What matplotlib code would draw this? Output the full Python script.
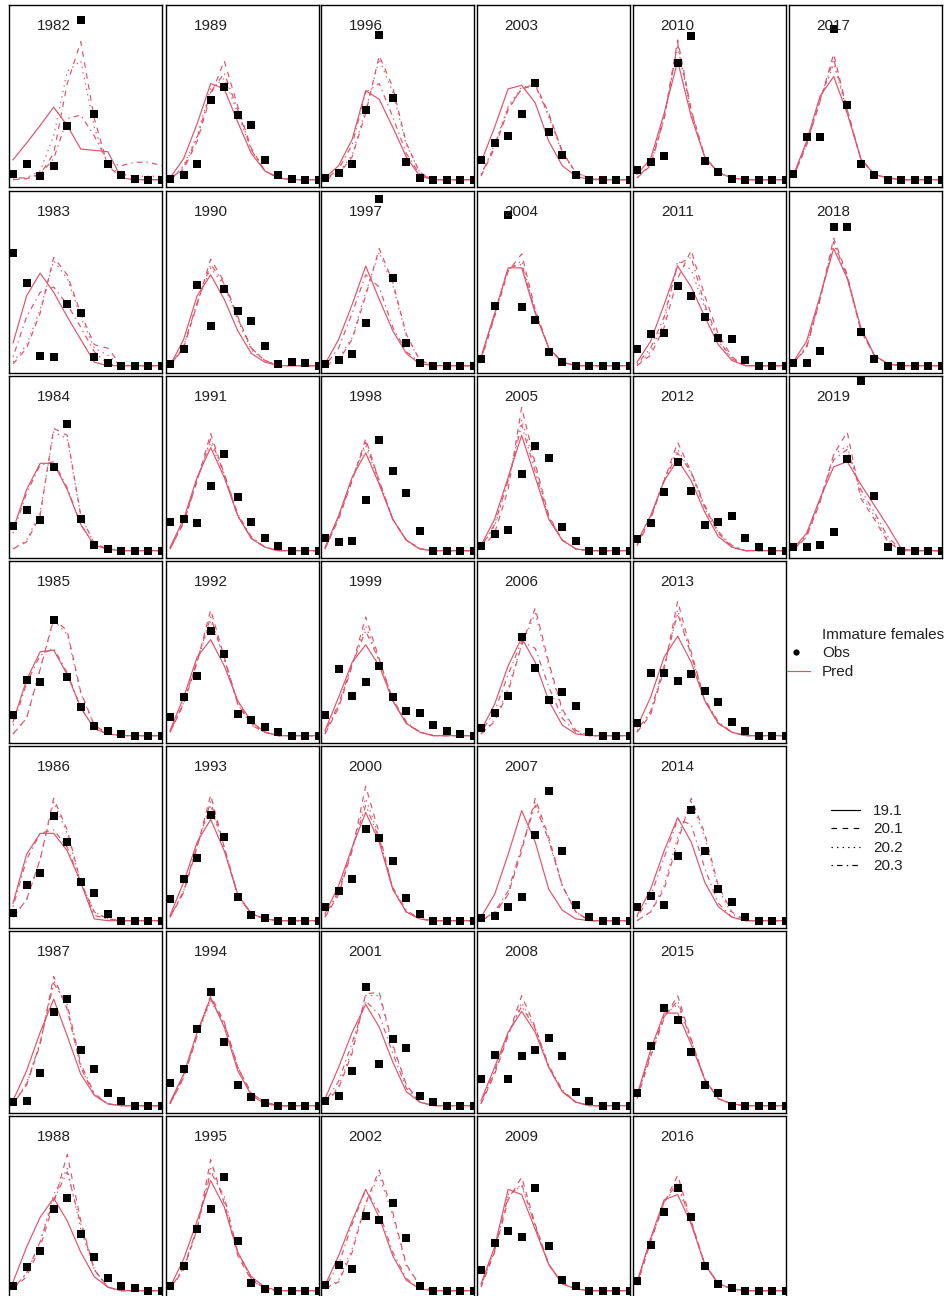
import matplotlib
matplotlib.use("Agg")
import matplotlib.pyplot as plt
from matplotlib.lines import Line2D

plt.rcParams['font.family'] = ['Liberation Sans', 'DejaVu Sans']
plt.rcParams['lines.scale_dashes'] = False

# size bins (12 per panel) and years
bins = list(range(12))
years = list(range(1982, 2020))

obs = {
    1982: [3.4, 9.1, 1.9, 7.6, 30.5, 91.4, 37.7, 9.1, 2.9, 0.4, 0, 0],
    1983: [64.3, 47.3, 5.8, 4.8, 35.1, 29.9, 5.2, 1.5, 0, 0, 0, 0],
    1984: [14, 23.5, 17.8, 47.8, 72.3, 18.2, 3.3, 1, 0, 0, 0, 0],
    1985: [11.9, 32.1, 30.6, 66.5, 33.5, 16.6, 5.4, 2.5, 1, 0, 0, 0],
    1986: [4.4, 20.5, 27.2, 60.2, 44.9, 22.4, 15.9, 3.8, 0, 0, 0, 0],
    1987: [1.9, 2.5, 18.7, 53.9, 60.8, 32.1, 21, 7.3, 2.5, 0, 0, 0],
    1988: [2.5, 13.7, 22.9, 46.7, 52.8, 32.4, 19.4, 7.2, 2.5, 1.5, 0, 0],
    1989: [0.4, 2.9, 9.1, 45.7, 52.8, 37.1, 31.4, 11.4, 2.9, 0.4, 0, 0],
    1990: [1, 9.7, 45.9, 22.8, 43.8, 31.5, 25.7, 11, 1, 1.9, 1.5, 0],
    1991: [16.6, 18.2, 15.7, 37.3, 55.4, 30.6, 16.3, 7.3, 2.5, 0, 0, 0],
    1992: [10.9, 22.4, 34, 59.8, 46.5, 12.4, 9.2, 4.8, 1.9, 0, 0, 0],
    1993: [12.4, 23.9, 35.8, 60.6, 47.8, 13.4, 3.4, 1.5, 0, 0, 0, 0],
    1994: [12.8, 21, 44, 65, 36.7, 11.9, 5.2, 1.5, 0, 0, 0, 0],
    1995: [2.5, 13.9, 35.2, 47, 65.1, 28.2, 4.4, 1, 0, 0, 0, 0],
    1996: [1, 3.8, 9.1, 39.6, 82.9, 46.7, 10.1, 1, 0, 0, 0, 0],
    1997: [1, 3.5, 6.4, 24.7, 95.2, 50.2, 13.1, 1.5, 0, 0, 0, 0],
    1998: [7.3, 4.8, 5.4, 29.1, 63.5, 45.5, 32.9, 11.1, 0, 0, 0, 0],
    1999: [11.9, 38.2, 22.9, 30.6, 39.6, 22.4, 14, 12.8, 6.1, 2.5, 1, 0],
    2000: [7.6, 16.8, 23.9, 52.2, 47.2, 34, 13, 3.8, 0, 0, 0, 0],
    2001: [2.5, 5.7, 19.7, 67.9, 23.9, 38.2, 33.1, 5.7, 1.9, 0, 0, 0],
    2002: [3.4, 14.9, 12.4, 42.5, 40.6, 50.1, 29.9, 2.9, 0, 0, 0, 0],
    2003: [11.4, 21, 24.8, 37.7, 55.2, 27.2, 13.9, 2.9, 0, 0, 0, 0],
    2004: [3.9, 34.2, 86.5, 33.4, 26.4, 7.7, 2.3, 0, 0, 0, 0, 0],
    2005: [2.9, 9.6, 11.9, 44, 59.8, 53, 13.4, 5.4, 0, 0, 0, 0],
    2006: [4.4, 13, 22.9, 56.4, 38.8, 20.7, 24.9, 16.8, 1.9, 0, 0, 0],
    2007: [1.3, 2.5, 7.6, 13.4, 48.8, 74, 39.8, 9.2, 1.9, 0, 0, 0],
    2008: [15.3, 29.1, 15.3, 28.7, 31.9, 38.6, 28.7, 8, 2.9, 0, 0, 0],
    2009: [11.8, 27.2, 33.9, 30.9, 58.7, 25.7, 6.3, 2.5, 0, 0, 0, 0],
    2010: [5.7, 10.1, 13.7, 66.7, 82.3, 10.5, 4.2, 0.4, 0, 0, 0, 0],
    2011: [9.7, 18, 18.9, 45.8, 40, 28, 15.8, 15.1, 3.5, 0, 0, 0],
    2012: [6.7, 15.7, 33.5, 51, 34, 14.9, 16.6, 20.1, 7.3, 1.9, 0, 0],
    2013: [7.3, 35.8, 35.8, 31.5, 35.4, 25.8, 19.1, 7.6, 2.5, 0, 0, 0],
    2014: [7.6, 14, 9.2, 37.3, 63.1, 39.8, 18.2, 10.9, 1.9, 0, 0, 0],
    2015: [7.3, 34, 56, 48.8, 30.6, 12, 7.3, 0, 0, 0, 0, 0],
    2016: [5.7, 26.3, 44.8, 58.7, 42.3, 14.3, 3.8, 1.5, 0, 0, 0, 0],
    2017: [3.4, 24.4, 24.4, 86, 42.9, 9.1, 2.9, 0, 0, 0, 0, 0],
    2018: [1.5, 1.5, 8.3, 79.2, 79.2, 19.3, 3.9, 0, 0, 0, 0, 0],
    2019: [1.9, 1.9, 3.3, 10.5, 52.2, 96.9, 31.2, 1.9, 0, 0, 0, 0],
}

# model 19.1 predictions
pred_191 = {
    1982: [11.4, 21, 31, 41.5, 31, 17.5, 16.8, 16, 1, 0, 0, 0],
    1983: [13, 40, 53, 42, 28, 15, 2, 0, 0, 0, 0, 0],
    1984: [12, 35, 50, 50, 35, 15, 3, 1, 0, 0, 0, 0],
    1985: [8, 32, 48, 49, 35, 16, 4, 1, 0, 0, 0, 0],
    1986: [10, 38, 50, 50, 40, 22, 1, 0, 0, 0, 0, 0],
    1987: [3, 20, 42, 61, 40, 18, 6, 1, 0, 0, 0, 0],
    1988: [5, 25, 42, 53, 40, 22, 8, 2, 0, 0, 0, 0],
    1989: [1, 12, 32, 55, 52, 33, 15, 5, 1, 0, 0, 0],
    1990: [0, 15, 40, 52, 38, 20, 7, 2, 0, 0, 0, 0],
    1991: [2, 18, 42, 59, 42, 20, 7, 2, 0, 0, 0, 0],
    1992: [3, 22, 45, 55, 40, 20, 8, 2, 0, 0, 0, 0],
    1993: [3, 22, 45, 58, 40, 15, 4, 1, 0, 0, 0, 0],
    1994: [2, 18, 42, 62, 45, 20, 6, 1, 0, 0, 0, 0],
    1995: [2, 18, 40, 63, 48, 22, 8, 2, 0, 0, 0, 0],
    1996: [1, 8, 23, 51, 46, 30, 13, 2, 0, 0, 0, 0],
    1997: [1, 15, 35, 57, 38, 20, 7, 1, 0, 0, 0, 0],
    1998: [2, 20, 42, 56, 38, 18, 6, 1, 0, 0, 0, 0],
    1999: [3, 22, 42, 52, 40, 20, 7, 2, 0, 0, 0, 0],
    2000: [4, 20, 42, 62, 45, 18, 5, 1, 0, 0, 0, 0],
    2001: [4, 22, 42, 58, 45, 25, 8, 2, 0, 0, 0, 0],
    2002: [3, 20, 40, 58, 42, 20, 6, 1, 0, 0, 0, 0],
    2003: [10, 30, 52, 54, 44, 22, 8, 2, 0, 0, 0, 0],
    2004: [5, 30, 56, 56, 30, 10, 2, 0, 0, 0, 0, 0],
    2005: [3, 18, 42, 66, 42, 18, 6, 1, 0, 0, 0, 0],
    2006: [3, 18, 40, 56, 42, 20, 6, 1, 0, 0, 0, 0],
    2007: [2, 15, 38, 63, 45, 18, 6, 1, 0, 0, 0, 0],
    2008: [3, 22, 42, 54, 42, 22, 8, 2, 0, 0, 0, 0],
    2009: [4, 25, 58, 55, 35, 15, 4, 1, 0, 0, 0, 0],
    2010: [3, 12, 38, 68, 36, 13, 4, 1, 0, 0, 0, 0],
    2011: [2, 14, 35, 57, 45, 28, 12, 3, 0, 0, 0, 0],
    2012: [5, 20, 40, 52, 40, 22, 8, 2, 0, 0, 0, 0],
    2013: [5, 22, 45, 57, 42, 20, 7, 2, 0, 0, 0, 0],
    2014: [3, 18, 40, 59, 45, 22, 8, 2, 0, 0, 0, 0],
    2015: [6, 32, 53, 53, 35, 15, 4, 1, 0, 0, 0, 0],
    2016: [5, 30, 52, 55, 38, 15, 4, 1, 0, 0, 0, 0],
    2017: [2, 22, 48, 59, 38, 12, 3, 1, 0, 0, 0, 0],
    2018: [2, 14, 40, 67, 50, 22, 6, 1, 0, 0, 0, 0],
    2019: [1, 10, 30, 48, 51, 38, 26, 14, 1, 0, 0, 0],
}

# model 20.1 predictions
pred_201 = {
    1982: [0, 0.5, 3, 15, 55, 79, 35, 8, 1, 0, 0, 0],
    1983: [1, 10, 30, 62, 52, 30, 12, 10, 0, 0, 0, 0],
    1984: [1, 5, 20, 70, 66, 20, 4, 1, 0, 0, 0, 0],
    1985: [1, 10, 38, 67, 60, 25, 6, 1, 0, 0, 0, 0],
    1986: [2, 12, 35, 70, 52, 22, 5, 1, 0, 0, 0, 0],
    1987: [1, 12, 35, 74, 55, 22, 6, 1, 0, 0, 0, 0],
    1988: [1, 8, 25, 50, 78, 40, 12, 2, 0, 0, 0, 0],
    1989: [0, 6, 22, 48, 68, 42, 18, 5, 1, 0, 0, 0],
    1990: [0, 10, 35, 61, 48, 28, 10, 3, 0, 0, 0, 0],
    1991: [1, 16, 40, 67, 44, 20, 7, 2, 0, 0, 0, 0],
    1992: [2, 18, 42, 72, 45, 18, 6, 2, 0, 0, 0, 0],
    1993: [2, 16, 42, 72, 42, 14, 4, 1, 0, 0, 0, 0],
    1994: [1, 16, 40, 63, 48, 22, 7, 2, 0, 0, 0, 0],
    1995: [1, 12, 35, 75, 50, 20, 6, 1, 0, 0, 0, 0],
    1996: [0, 3, 13, 38, 71, 53, 21, 4, 0, 0, 0, 0],
    1997: [0, 3, 15, 40, 67, 48, 18, 3, 0, 0, 0, 0],
    1998: [1, 18, 40, 64, 40, 18, 6, 1, 0, 0, 0, 0],
    1999: [1, 16, 40, 68, 44, 20, 7, 2, 0, 0, 0, 0],
    2000: [2, 15, 40, 77, 50, 18, 5, 1, 0, 0, 0, 0],
    2001: [1, 10, 30, 64, 65, 35, 12, 2, 0, 0, 0, 0],
    2002: [1, 5, 22, 50, 69, 45, 15, 3, 0, 0, 0, 0],
    2003: [2, 18, 40, 52, 55, 38, 16, 4, 1, 0, 0, 0],
    2004: [3, 28, 54, 64, 32, 10, 2, 0, 0, 0, 0, 0],
    2005: [1, 10, 35, 82, 50, 20, 6, 1, 0, 0, 0, 0],
    2006: [1, 8, 25, 52, 73, 42, 15, 3, 0, 0, 0, 0],
    2007: [0, 4, 15, 40, 70, 48, 20, 5, 0, 0, 0, 0],
    2008: [1, 18, 40, 63, 45, 22, 8, 2, 0, 0, 0, 0],
    2009: [2, 22, 52, 65, 38, 15, 4, 1, 0, 0, 0, 0],
    2010: [1, 8, 35, 80, 40, 13, 4, 1, 0, 0, 0, 0],
    2011: [0, 6, 22, 50, 66, 40, 18, 5, 0, 0, 0, 0],
    2012: [3, 18, 40, 62, 45, 25, 10, 2, 0, 0, 0, 0],
    2013: [2, 12, 38, 77, 48, 20, 7, 2, 0, 0, 0, 0],
    2014: [0, 5, 18, 45, 70, 50, 20, 5, 0, 0, 0, 0],
    2015: [4, 28, 50, 63, 38, 15, 4, 1, 0, 0, 0, 0],
    2016: [3, 28, 50, 66, 40, 15, 4, 1, 0, 0, 0, 0],
    2017: [1, 20, 45, 72, 40, 12, 3, 1, 0, 0, 0, 0],
    2018: [1, 10, 38, 73, 52, 20, 6, 1, 0, 0, 0, 0],
    2019: [0, 8, 28, 55, 68, 30, 18, 5, 0, 0, 0, 0],
}

# model 20.2 predictions
pred_202 = {
    1982: [0, 1, 5, 25, 62, 68, 30, 8, 3, 2, 2, 2],
    1983: [2, 12, 32, 60, 50, 28, 10, 6, 0, 0, 0, 0],
    1984: [1, 6, 22, 68, 64, 20, 4, 1, 0, 0, 0, 0],
    1985: [1, 10, 38, 66, 58, 24, 6, 1, 0, 0, 0, 0],
    1986: [2, 12, 35, 68, 50, 22, 5, 1, 0, 0, 0, 0],
    1987: [1, 13, 36, 72, 56, 22, 6, 1, 0, 0, 0, 0],
    1988: [1, 10, 28, 55, 70, 35, 12, 2, 0, 0, 0, 0],
    1989: [0, 8, 25, 52, 58, 38, 17, 5, 1, 0, 0, 0],
    1990: [0, 11, 36, 56, 46, 26, 9, 3, 0, 0, 0, 0],
    1991: [1, 17, 41, 62, 43, 20, 7, 2, 0, 0, 0, 0],
    1992: [2, 19, 43, 66, 44, 18, 6, 2, 0, 0, 0, 0],
    1993: [2, 17, 43, 66, 41, 14, 4, 1, 0, 0, 0, 0],
    1994: [1, 16, 40, 60, 47, 22, 7, 2, 0, 0, 0, 0],
    1995: [1, 13, 36, 70, 52, 21, 7, 1, 0, 0, 0, 0],
    1996: [0, 4, 14, 40, 69, 50, 20, 4, 0, 0, 0, 0],
    1997: [0, 4, 16, 42, 65, 46, 17, 3, 0, 0, 0, 0],
    1998: [1, 19, 41, 60, 39, 18, 6, 1, 0, 0, 0, 0],
    1999: [1, 17, 41, 63, 43, 20, 7, 2, 0, 0, 0, 0],
    2000: [2, 16, 41, 70, 48, 18, 5, 1, 0, 0, 0, 0],
    2001: [1, 11, 32, 63, 63, 34, 12, 2, 0, 0, 0, 0],
    2002: [1, 6, 24, 50, 66, 43, 14, 3, 0, 0, 0, 0],
    2003: [3, 20, 42, 53, 54, 36, 15, 4, 1, 0, 0, 0],
    2004: [4, 29, 55, 60, 31, 10, 2, 0, 0, 0, 0, 0],
    2005: [2, 14, 40, 75, 48, 19, 6, 1, 0, 0, 0, 0],
    2006: [1, 9, 27, 52, 70, 40, 14, 3, 0, 0, 0, 0],
    2007: [0, 4, 15, 42, 68, 46, 20, 5, 0, 0, 0, 0],
    2008: [1, 19, 41, 59, 44, 22, 8, 2, 0, 0, 0, 0],
    2009: [3, 23, 55, 60, 37, 15, 4, 1, 0, 0, 0, 0],
    2010: [1, 9, 36, 76, 38, 13, 4, 1, 0, 0, 0, 0],
    2011: [0, 8, 25, 60, 55, 33, 14, 4, 0, 0, 0, 0],
    2012: [3, 19, 41, 58, 44, 24, 10, 2, 0, 0, 0, 0],
    2013: [2, 13, 39, 72, 46, 20, 7, 2, 0, 0, 0, 0],
    2014: [0, 5, 20, 48, 68, 48, 18, 4, 0, 0, 0, 0],
    2015: [5, 30, 52, 58, 37, 15, 4, 1, 0, 0, 0, 0],
    2016: [4, 29, 51, 60, 39, 15, 4, 1, 0, 0, 0, 0],
    2017: [1, 21, 46, 66, 39, 12, 3, 1, 0, 0, 0, 0],
    2018: [1, 11, 38, 70, 50, 20, 6, 1, 0, 0, 0, 0],
    2019: [0, 8, 28, 55, 60, 32, 20, 6, 0, 0, 0, 0],
}

# model 20.3 predictions
pred_203 = {
    1982: [1, 1, 3, 12, 35, 37, 25, 10, 8, 10, 10, 8],
    1983: [5, 28, 42, 45, 35, 22, 8, 1, 0, 0, 0, 0],
    1984: [10, 33, 49, 51, 36, 15, 3, 1, 0, 0, 0, 0],
    1985: [6, 30, 46, 50, 36, 16, 4, 1, 0, 0, 0, 0],
    1986: [8, 35, 50, 52, 42, 22, 3, 1, 0, 0, 0, 0],
    1987: [1, 12, 36, 70, 58, 24, 7, 1, 0, 0, 0, 0],
    1988: [1, 10, 28, 52, 68, 38, 12, 2, 0, 0, 0, 0],
    1989: [0, 7, 24, 50, 61, 40, 17, 5, 1, 0, 0, 0],
    1990: [0, 11, 36, 58, 47, 27, 10, 3, 0, 0, 0, 0],
    1991: [1, 16, 40, 64, 44, 21, 8, 2, 0, 0, 0, 0],
    1992: [2, 19, 43, 68, 44, 19, 7, 2, 0, 0, 0, 0],
    1993: [2, 17, 43, 68, 42, 15, 4, 1, 0, 0, 0, 0],
    1994: [1, 17, 41, 61, 47, 22, 7, 2, 0, 0, 0, 0],
    1995: [1, 13, 36, 68, 54, 22, 7, 1, 0, 0, 0, 0],
    1996: [0, 6, 20, 50, 55, 36, 15, 3, 0, 0, 0, 0],
    1997: [0, 10, 30, 52, 45, 22, 8, 2, 0, 0, 0, 0],
    1998: [1, 19, 41, 62, 40, 18, 6, 1, 0, 0, 0, 0],
    1999: [2, 18, 41, 60, 43, 21, 8, 2, 0, 0, 0, 0],
    2000: [3, 17, 41, 66, 47, 19, 6, 1, 0, 0, 0, 0],
    2001: [2, 14, 36, 60, 52, 30, 10, 2, 0, 0, 0, 0],
    2002: [2, 15, 38, 58, 45, 22, 7, 1, 0, 0, 0, 0],
    2003: [3, 19, 41, 52, 54, 37, 16, 4, 1, 0, 0, 0],
    2004: [4, 29, 56, 58, 31, 10, 2, 0, 0, 0, 0, 0],
    2005: [2, 15, 40, 72, 45, 19, 6, 1, 0, 0, 0, 0],
    2006: [2, 14, 35, 54, 50, 28, 10, 2, 0, 0, 0, 0],
    2007: [0, 5, 17, 42, 66, 46, 20, 5, 0, 0, 0, 0],
    2008: [2, 20, 41, 57, 44, 23, 9, 2, 0, 0, 0, 0],
    2009: [3, 23, 54, 61, 37, 15, 4, 1, 0, 0, 0, 0],
    2010: [1, 9, 35, 78, 39, 13, 4, 1, 0, 0, 0, 0],
    2011: [1, 10, 28, 58, 62, 35, 15, 4, 0, 0, 0, 0],
    2012: [4, 19, 40, 56, 45, 26, 11, 3, 0, 0, 0, 0],
    2013: [3, 14, 40, 70, 46, 21, 8, 2, 0, 0, 0, 0],
    2014: [2, 14, 36, 58, 55, 30, 10, 2, 0, 0, 0, 0],
    2015: [5, 30, 51, 60, 37, 15, 4, 1, 0, 0, 0, 0],
    2016: [4, 29, 51, 62, 39, 15, 4, 1, 0, 0, 0, 0],
    2017: [1, 20, 46, 69, 40, 12, 3, 1, 0, 0, 0, 0],
    2018: [1, 11, 39, 71, 51, 21, 6, 1, 0, 0, 0, 0],
    2019: [0, 9, 30, 52, 58, 35, 22, 8, 0, 0, 0, 0],
}

models = ["19.1", "20.1", "20.2", "20.3"]
preds = [pred_191, pred_201, pred_202, pred_203]
dashes = ['-', (0, (4, 4)), (0, (1, 3)), (0, (1, 3, 4, 3))]
red = '#DF536B'
txt = '#222222'

W, H = 945, 1296
fig = plt.figure(figsize=(W / 100, H / 100), dpi=100)

col_left = [9, 166, 321, 477, 633, 789]
row_top = [5, 191, 376, 561, 746, 931, 1116]
pw, ph = 153, 182

for k, yr in enumerate(years):
    c, r = k // 7, k % 7
    ax = fig.add_axes([col_left[c] / W, 1 - (row_top[r] + ph) / H, pw / W, ph / H])
    for p, ls in zip(preds, dashes):
        ax.plot(bins, p[yr], color=red, lw=0.85, linestyle=ls)
    ax.plot(bins, obs[yr], 's', color='black', ms=5.2, mew=0)
    ax.text(3, 88, str(yr), ha='center', va='center', fontsize=11, color=txt)
    ax.set_xlim(-0.3, 11)
    ax.set_ylim(-4.2, 100)
    ax.set_xticks([])
    ax.set_yticks([])
    for s in ax.spines.values():
        s.set_linewidth(1.0)
        s.set_color('black')

# legend: obs / pred
def fx(x):
    return x / W

def fy(y):
    return 1 - y / H

fig.text(fx(822), fy(635), "Immature females", fontsize=11, va='center', color=txt)
fig.add_artist(Line2D([fx(796)], [fy(652)], marker='o', color='black', ms=4.5, mew=0))
fig.text(fx(822), fy(653), "Obs", fontsize=11, va='center', color=txt)
fig.add_artist(Line2D([fx(787), fx(810)], [fy(671), fy(671)], color=red, lw=0.85))
fig.text(fx(822), fy(672), "Pred", fontsize=11, va='center', color=txt)

# legend: model versions
for i, (m, ls) in enumerate(zip(models, dashes)):
    yy = 810 + i * 18.3
    fig.add_artist(Line2D([fx(831), fx(860)], [fy(yy), fy(yy)], color='black', lw=0.85, linestyle=ls))
    fig.text(fx(873), fy(yy + 1), m, fontsize=11, va='center', color=txt)

fig.savefig('out.png', dpi=100)
